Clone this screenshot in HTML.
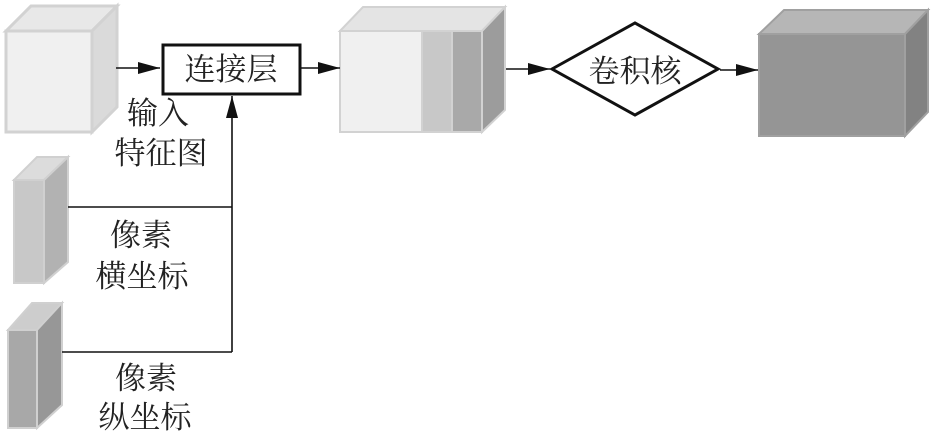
<!DOCTYPE html>
<html><head><meta charset="utf-8"><style>
body{margin:0;background:#fff}
text{font-family:"Liberation Serif","Noto Serif CJK SC","Noto Sans CJK SC",serif;font-size:31px;fill:#222}
</style></head><body>
<svg width="934" height="434" viewBox="0 0 934 434" xmlns="http://www.w3.org/2000/svg">
<defs><marker id="a" markerWidth="10" markerHeight="8" refX="10" refY="4" orient="auto" markerUnits="userSpaceOnUse"><path d="M0,0L10,4L0,8z" fill="#111"/></marker>
<marker id="b" markerWidth="22" markerHeight="12" refX="22" refY="6" orient="auto" markerUnits="userSpaceOnUse"><path d="M0,0L22,6L0,12z" fill="#111"/></marker></defs>
<!-- cube1 -->
<g stroke="#d2d2d2" stroke-width="3">
<polygon points="6,31 31,6 117,6 92,31" fill="#e8e8e8"/>
<polygon points="92,31 117,6 117,107 92,132" fill="#dadada"/>
<rect x="6" y="31" width="86" height="101" fill="#f0f0f0"/>
</g>
<!-- cube2 -->
<g stroke="#d2d2d2" stroke-width="2">
<polygon points="340,31 363,7 505,7 482,31" fill="#e4e4e4"/>
<polygon points="482,31 505,7 505,110 482,132" fill="#9c9c9c"/>
<rect x="340" y="31" width="82" height="101" fill="#f0f0f0"/>
<rect x="422" y="31" width="30" height="101" fill="#c8c8c8"/>
<rect x="452" y="31" width="30" height="101" fill="#a9a9a9"/>
</g>
<!-- cube3 -->
<g stroke="#a0a0a0" stroke-width="2">
<polygon points="759,34 784,10 928,10 905,34" fill="#b6b6b6"/>
<polygon points="905,34 928,10 928,112 905,136" fill="#828282"/>
<rect x="759" y="34" width="146" height="102" fill="#959595"/>
</g>
<!-- small cubes -->
<g stroke="#d0d0d0" stroke-width="2">
<polygon points="14,180 37,157 68,157 44,180" fill="#dcdcdc"/>
<polygon points="44,180 68,157 68,262 44,283" fill="#b2b2b2"/>
<rect x="14" y="180" width="30" height="103" fill="#c8c8c8"/>
<polygon points="8,330 32,303 62,303 37,330" fill="#cdcdcd"/>
<polygon points="37,330 62,303 62,405 37,428" fill="#979797"/>
<rect x="8" y="330" width="29" height="98" fill="#a8a8a8"/>
</g>
<!-- connectors -->
<g stroke="#111" stroke-width="1.6" fill="none">
<line x1="116" y1="68" x2="160" y2="68" marker-end="url(#b)"/>
<line x1="301" y1="68" x2="340" y2="68" marker-end="url(#b)"/>
<line x1="506" y1="69" x2="550" y2="69" marker-end="url(#b)"/>
<line x1="720" y1="70" x2="758" y2="70" marker-end="url(#b)"/>
<line x1="232" y1="352" x2="232" y2="96" marker-end="url(#b)"/>
<line x1="68" y1="207" x2="232" y2="207"/>
<line x1="62" y1="352" x2="232" y2="352"/>
</g>
<rect x="163" y="45" width="137" height="49" fill="#fff" stroke="#111" stroke-width="3"/>
<polygon points="552,69 635,23 718,69 635,115" fill="#fff" stroke="#111" stroke-width="3"/>
<text x="231" y="80" text-anchor="middle">连接层</text>
<text x="635" y="82" text-anchor="middle">卷积核</text>
<text x="158" y="124" text-anchor="middle">输入</text>
<text x="161" y="164" text-anchor="middle">特征图</text>
<text x="141" y="246" text-anchor="middle">像素</text>
<text x="142" y="287" text-anchor="middle">横坐标</text>
<text x="146" y="389" text-anchor="middle">像素</text>
<text x="145" y="428" text-anchor="middle">纵坐标</text>
</svg>
</body></html>
